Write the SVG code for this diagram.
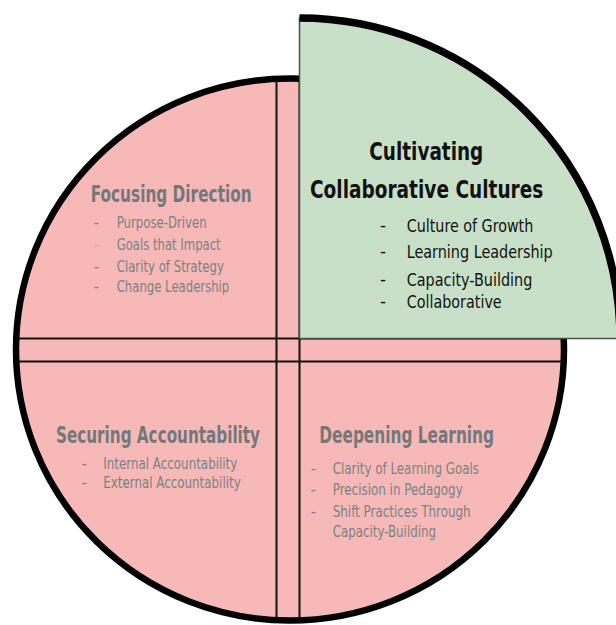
<svg xmlns="http://www.w3.org/2000/svg" width="616" height="625" viewBox="0 0 616 625">
  <defs>
    <clipPath id="circleClip">
      <ellipse cx="290" cy="349.5" rx="274" ry="271"/>
    </clipPath>
    <style>
      .pink { fill: #F7B9B8; }
      .green { fill: #C9E0C8; stroke: #4a4f4a; stroke-width: 1.5; }
      .rim { fill: none; stroke: #000; stroke-width: 6.5; }
      .divider { stroke: #111; stroke-width: 2; }
      .ttl { font-family: "Liberation Sans Narrow", "DejaVu Sans Condensed", "Roboto Condensed", "Liberation Sans", sans-serif; font-stretch: condensed; font-weight: bold; font-size: 23px; fill: #74787a; }
      .itm { font-family: "Liberation Sans Narrow", "DejaVu Sans Condensed", "Roboto Condensed", "Liberation Sans", sans-serif; font-stretch: condensed; font-size: 16px; fill: #7b8184; }
      .dash { font-family: "Liberation Sans", sans-serif; font-size: 16px; fill: #7b8184; text-anchor: middle; }
      .gttl { font-family: "Liberation Sans Narrow", "DejaVu Sans Condensed", "Roboto Condensed", "Liberation Sans", sans-serif; font-stretch: condensed; font-weight: bold; font-size: 24.5px; fill: #111; }
      .gitm { font-family: "Liberation Sans Narrow", "DejaVu Sans Condensed", "Roboto Condensed", "Liberation Sans", sans-serif; font-stretch: condensed; font-size: 18.5px; fill: #111; }
      .gdash { font-family: "Liberation Sans", sans-serif; font-size: 18px; fill: #111; text-anchor: middle; }
    </style>
  </defs>

  <g id="base-circle">
    <ellipse class="pink" cx="290" cy="349.5" rx="274" ry="271"/>
  </g>

  <g id="dividers" clip-path="url(#circleClip)">
    <line class="divider" x1="276.5" y1="60" x2="276.5" y2="630"/>
    <line class="divider" x1="299.5" y1="60" x2="299.5" y2="630"/>
    <line class="divider" x1="0" y1="338.5" x2="620" y2="338.5"/>
    <line class="divider" x1="0" y1="361.5" x2="620" y2="361.5"/>
  </g>

  <g id="base-rim">
    <ellipse class="rim" cx="290" cy="349.5" rx="274" ry="271"/>
  </g>

  <g id="focusing-direction">
    <text class="ttl" x="90.7" y="201.7" textLength="161" lengthAdjust="spacingAndGlyphs">Focusing Direction</text>
    <text class="dash" x="96.5" y="228.3">-</text>
    <text class="itm" x="116.7" y="228.3" textLength="90" lengthAdjust="spacingAndGlyphs">Purpose-Driven</text>
    <text class="dash" x="96.5" y="250" style="fill:#b3b6b8">-</text>
    <text class="itm" x="116.7" y="250" textLength="104" lengthAdjust="spacingAndGlyphs">Goals that Impact</text>
    <text class="dash" x="96.5" y="271.7">-</text>
    <text class="itm" x="116.7" y="271.7" textLength="107.3" lengthAdjust="spacingAndGlyphs">Clarity of Strategy</text>
    <text class="dash" x="96.5" y="291.7">-</text>
    <text class="itm" x="116.7" y="291.7" textLength="112.6" lengthAdjust="spacingAndGlyphs">Change Leadership</text>
  </g>

  <g id="securing-accountability">
    <text class="ttl" x="56" y="443.3" textLength="204" lengthAdjust="spacingAndGlyphs">Securing Accountability</text>
    <text class="dash" x="84.5" y="469">-</text>
    <text class="itm" x="103.3" y="469" textLength="134" lengthAdjust="spacingAndGlyphs">Internal Accountability</text>
    <text class="dash" x="84.5" y="488.3">-</text>
    <text class="itm" x="103.3" y="488.3" textLength="137.4" lengthAdjust="spacingAndGlyphs">External Accountability</text>
  </g>

  <g id="deepening-learning">
    <text class="ttl" x="319.3" y="443.3" textLength="174.7" lengthAdjust="spacingAndGlyphs">Deepening Learning</text>
    <text class="dash" x="313.5" y="474">-</text>
    <text class="itm" x="332.7" y="474" textLength="146.3" lengthAdjust="spacingAndGlyphs">Clarity of Learning Goals</text>
    <text class="dash" x="313.5" y="495">-</text>
    <text class="itm" x="332.7" y="495" textLength="130" lengthAdjust="spacingAndGlyphs">Precision in Pedagogy</text>
    <text class="dash" x="313.5" y="517.3">-</text>
    <text class="itm" x="332.7" y="517.3" textLength="138" lengthAdjust="spacingAndGlyphs">Shift Practices Through</text>
    <text class="itm" x="332.7" y="536.7" textLength="103.3" lengthAdjust="spacingAndGlyphs">Capacity-Building</text>
  </g>

  <g id="cultivating-collaborative-cultures">
    <path class="green" d="M299.5,338.5 L299.5,18 A320.5,320.5 0 0 1 620,338.5 Z"/>
    <path class="rim" style="stroke-width:7.5" d="M299.5,18 A320.5,320.5 0 0 1 620,338.5"/>
    <text class="gttl" x="369.3" y="160" textLength="114" lengthAdjust="spacingAndGlyphs">Cultivating</text>
    <text class="gttl" x="310" y="198.3" textLength="233.3" lengthAdjust="spacingAndGlyphs">Collaborative Cultures</text>
    <text class="gdash" x="383" y="231.7">-</text>
    <text class="gitm" x="406.7" y="231.7" textLength="126.6" lengthAdjust="spacingAndGlyphs">Culture of Growth</text>
    <text class="gdash" x="383" y="258.3">-</text>
    <text class="gitm" x="406.7" y="258.3" textLength="146" lengthAdjust="spacingAndGlyphs">Learning Leadership</text>
    <text class="gdash" x="383" y="286">-</text>
    <text class="gitm" x="406.7" y="286" textLength="125.6" lengthAdjust="spacingAndGlyphs">Capacity-Building</text>
    <text class="gdash" x="383" y="308.3">-</text>
    <text class="gitm" x="406.7" y="308.3" textLength="95" lengthAdjust="spacingAndGlyphs">Collaborative</text>
  </g>
</svg>
